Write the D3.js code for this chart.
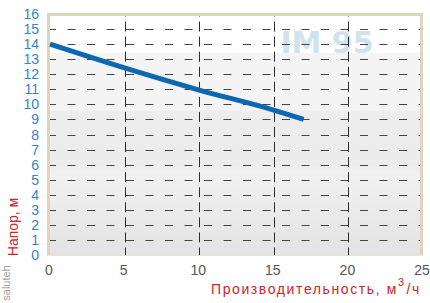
<!DOCTYPE html>
<html>
<head>
<meta charset="utf-8">
<script src="https://cdn.jsdelivr.net/npm/d3@7"></script>
<style>
  body { margin: 0; background: #fff; }
  svg { display: block; font-family: "Liberation Sans", Arial, sans-serif; }
  .ytick { fill: #2f86c8; font-size: 14px; }
  .xtick { fill: #555; font-size: 14px; }
  .title { fill: #d3222a; font-size: 14px; }
</style>
</head>
<body>
<svg id="chart"></svg>
<script>
// flow (m3/h) and head (m)
var flow = [0, 5, 10, 15, 17];
var head = [14, 12.42, 10.95, 9.62, 9.0];

var xTicks = [0, 5, 10, 15, 20, 25];
var yTicks = [0, 1, 2, 3, 4, 5, 6, 7, 8, 9, 10, 11, 12, 13, 14, 15, 16];

var screen = { width: 430, height: 303 };
var plot = { left: 50, right: 421, top: 14, bottom: 255 };

var svg = d3.select("#chart")
  .attr("width", screen.width)
  .attr("height", screen.height);

var xScale = d3.scaleLinear().domain([0, 25]).range([50, 423]);
var yScale = d3.scaleLinear().domain([0, 16]).range([255, 14]);

//background bands
var defs = svg.append("defs");
var grad = defs.append("linearGradient")
  .attr("id", "bg")
  .attr("x1", 0).attr("y1", 0).attr("x2", 0).attr("y2", 1);
var stops = [
  [0, "#ffffff"], [0.16, "#ffffff"], [0.161, "#f4f4f4"],
  [0.40, "#f4f4f4"], [0.401, "#ededed"], [0.62, "#ececec"],
  [0.66, "#f1f1f1"], [1, "#e3e3e3"]
];
stops.forEach(function (s) {
  grad.append("stop").attr("offset", s[0]).attr("stop-color", s[1]);
});

svg.append("rect")
  .attr("x", plot.left - 2)
  .attr("y", plot.top)
  .attr("width", plot.right - plot.left + 2)
  .attr("height", plot.bottom - plot.top)
  .attr("fill", "url(#bg)");

//watermark
svg.append("text")
  .text("IM 95")
  .attr("x", 327)
  .attr("y", 53)
  .attr("text-anchor", "middle")
  .style("font-family", "'DejaVu Sans', sans-serif")
  .style("font-weight", "bold")
  .style("font-size", "30px")
  .style("fill", "#cfe3ef");

//grid
var grid = svg.append("g").classed("grid", true);
grid.selectAll("line.h")
  .data(yTicks.filter(function (d) { return d > 0 && d < 16; }))
  .enter()
  .append("line")
  .classed("h", true)
  .attr("x1", plot.left - 2)
  .attr("x2", plot.right - 1)
  .attr("y1", function (d) { return Math.round(yScale(d)) + 0.5; })
  .attr("y2", function (d) { return Math.round(yScale(d)) + 0.5; })
  .attr("stroke", "#444")
  .attr("stroke-width", 1)
  .attr("stroke-dasharray", "8,11.5");

grid.selectAll("line.v")
  .data(xTicks.filter(function (d) { return d > 0 && d < 25; }))
  .enter()
  .append("line")
  .classed("v", true)
  .attr("x1", function (d) { return Math.round(xScale(d)) + 0.5; })
  .attr("x2", function (d) { return Math.round(xScale(d)) + 0.5; })
  .attr("y1", plot.top)
  .attr("y2", plot.bottom)
  .attr("stroke", "#2a2a2a")
  .attr("stroke-width", 1)
  .attr("stroke-dasharray", "10,5.06")
  .attr("stroke-dashoffset", 7.5);

//frame
var frame = svg.append("g").attr("fill", "none").attr("stroke", "#ddd6bd").attr("stroke-width", 3);
frame.append("line").attr("x1", 48.5).attr("x2", 48.5).attr("y1", 13).attr("y2", 256);
frame.append("line").attr("x1", 421.5).attr("x2", 421.5).attr("y1", 13).attr("y2", 256);
frame.append("line").attr("x1", 47).attr("x2", 423).attr("y1", 14.5).attr("y2", 14.5);
frame.append("line").attr("x1", 47).attr("x2", 423).attr("y1", 255.5).attr("y2", 255.5)
  .attr("stroke-width", 1).attr("stroke", "#e9e3cf");

//curve
var pts = flow.map(function (f, i) { return [f, head[i]]; });
var line = d3.line()
  .x(function (d) { return xScale(d[0]); })
  .y(function (d) { return yScale(d[1]); })
  .curve(d3.curveMonotoneX);
svg.append("path")
  .datum(pts)
  .attr("d", line)
  .attr("fill", "none")
  .attr("stroke", "#0b68b2")
  .attr("stroke-width", 5);

//tick labels
svg.append("g").selectAll("text")
  .data(yTicks)
  .enter()
  .append("text")
  .classed("ytick", true)
  .text(function (d) { return d; })
  .attr("x", 39)
  .attr("y", function (d) { return yScale(d) + 5; })
  .attr("text-anchor", "end");

svg.append("g").selectAll("text")
  .data(xTicks)
  .enter()
  .append("text")
  .classed("xtick", true)
  .text(function (d) { return d; })
  .attr("x", function (d) { return xScale(d) - 1; })
  .attr("y", 275)
  .attr("text-anchor", "middle");

//axis titles
svg.append("g")
  .attr("transform", "translate(18,227)")
  .append("text")
  .classed("title", true)
  .text("Напор, м")
  .attr("text-anchor", "middle")
  .attr("transform", "rotate(-90)");

svg.append("g")
  .attr("transform", "translate(10,283)")
  .append("text")
  .text("saluteh")
  .attr("text-anchor", "middle")
  .attr("transform", "rotate(-90)")
  .style("font-size", "11px")
  .style("fill", "#a0a0a0");

var xt = svg.append("text")
  .classed("title", true)
  .attr("x", 421)
  .attr("y", 294)
  .attr("text-anchor", "end")
  .style("letter-spacing", "1.6px");
xt.append("tspan").text("Производительность, м");
xt.append("tspan").text("3").attr("dy", -8).style("font-size", "11px");
xt.append("tspan").text("/ч").attr("dy", 8).attr("dx", 1);
</script>
</body>
</html>
